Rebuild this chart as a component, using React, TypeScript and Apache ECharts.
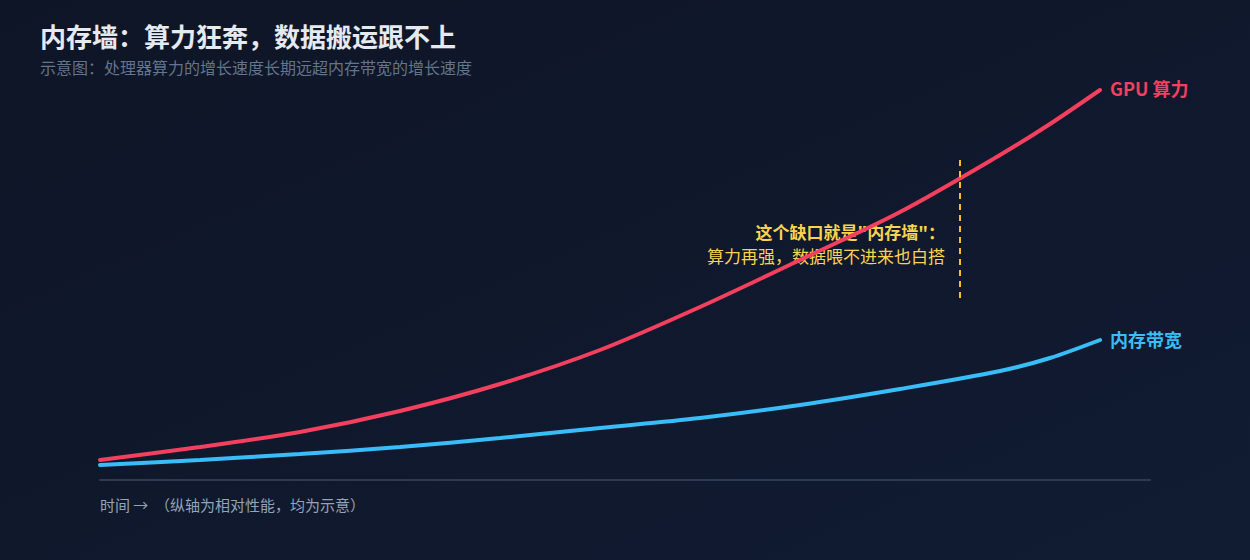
import React, { useEffect, useRef } from "react";
import * as echarts from "echarts";

const timeSteps = [0, 1, 2, 3, 4, 5, 6, 7, 8, 9, 9.5, 10];
const gpuCompute = [5, 8.25, 12, 17.25, 24, 32.5, 43.25, 55, 67, 81.25, 89, 97.5];
const memBandwidth = [3.75, 5, 6.5, 8.25, 10.5, 13, 15.5, 18.75, 22.75, 27.25, 30.5, 35];
const seriesNames = ["GPU 算力", "内存带宽"];
const wallMarker = { x: 8.6, yTop: 80, yBottom: 45.5 };
const titleText = "内存墙：算力狂奔，数据搬运跟不上";
const subtitleText = "示意图：处理器算力的增长速度长期远超内存带宽的增长速度";
const noteLine1 = "这个缺口就是\"内存墙\"：";
const noteLine2 = "算力再强，数据喂不进来也白搭";
const axisNote = "时间 →  （纵轴为相对性能，均为示意）";

const FONT = "'Noto Sans CJK SC', 'Noto Sans', sans-serif";

export default function App() {
  const ref = useRef<HTMLDivElement>(null);
  useEffect(() => {
    document.body.style.margin = "0";
    const chart = echarts.init(ref.current!, null, { renderer: "svg" });
    const pair = (arr: number[]) => timeSteps.map((t, i) => [t, arr[i]]);
    chart.setOption({
      animation: false,
      backgroundColor: new echarts.graphic.LinearGradient(0, 0, 1, 1, [
        { offset: 0, color: "#0e1526" },
        { offset: 1, color: "#111b32" },
      ]),
      textStyle: { fontFamily: FONT },
      grid: { left: 100, right: 100, top: 80, bottom: 80 },
      xAxis: {
        type: "value",
        min: 0,
        max: 10.5,
        axisLine: { show: true, lineStyle: { color: "#2e3a50", width: 2 } },
        axisTick: { show: false },
        axisLabel: { show: false },
        splitLine: { show: false },
      },
      yAxis: {
        type: "value",
        min: 0,
        max: 100,
        show: false,
      },
      graphic: [
        {
          type: "text",
          x: 40,
          y: 35,
          style: {
            text: titleText,
            fill: "#e5e9f0",
            font: `bold 26px ${FONT}`,
            verticalAlign: "middle",
          },
        },
        {
          type: "text",
          x: 40,
          y: 67,
          style: {
            text: subtitleText,
            fill: "#64748b",
            font: `16px ${FONT}`,
            verticalAlign: "middle",
          },
        },
        {
          type: "text",
          x: 945,
          y: 231,
          style: {
            text: noteLine1,
            fill: "#fcd34d",
            font: `bold 17px ${FONT}`,
            align: "right",
            verticalAlign: "middle",
          },
        },
        {
          type: "text",
          x: 945,
          y: 255,
          style: {
            text: noteLine2,
            fill: "#fcd34d",
            font: `17px ${FONT}`,
            align: "right",
            verticalAlign: "middle",
          },
        },
        {
          type: "text",
          x: 100,
          y: 504,
          style: {
            text: axisNote,
            fill: "#94a3b8",
            font: `15px ${FONT}`,
            align: "left",
            verticalAlign: "middle",
          },
        },
      ],
      series: [
        {
          name: seriesNames[0],
          type: "line",
          data: pair(gpuCompute),
          smooth: 0.3,
          showSymbol: false,
          lineStyle: { color: "#f43f5e", width: 4, cap: "round" },
          itemStyle: { color: "#f43f5e" },
          endLabel: {
            show: true,
            formatter: "{a}",
            color: "#f43f5e",
            fontSize: 18,
            fontWeight: 600,
            distance: 10,
            offset: [0, -2],
            fontFamily: FONT,
          },
          markLine: {
            silent: true,
            symbol: "none",
            label: { show: false },
            lineStyle: { color: "#fbbf24", width: 2, type: [6, 5] },
            data: [
              [
                { coord: [wallMarker.x, wallMarker.yTop] },
                { coord: [wallMarker.x, wallMarker.yBottom] },
              ],
            ],
          },
        },
        {
          name: seriesNames[1],
          type: "line",
          data: pair(memBandwidth),
          smooth: 0.3,
          showSymbol: false,
          lineStyle: { color: "#38bdf8", width: 4, cap: "round" },
          itemStyle: { color: "#38bdf8" },
          endLabel: {
            show: true,
            formatter: "{a}",
            color: "#38bdf8",
            fontSize: 18,
            fontWeight: 600,
            distance: 10,
            offset: [0, -1],
            fontFamily: FONT,
          },
        },
      ],
    });
    return () => chart.dispose();
  }, []);
  return <div ref={ref} style={{ width: 1250, height: 560 }} />;
}
